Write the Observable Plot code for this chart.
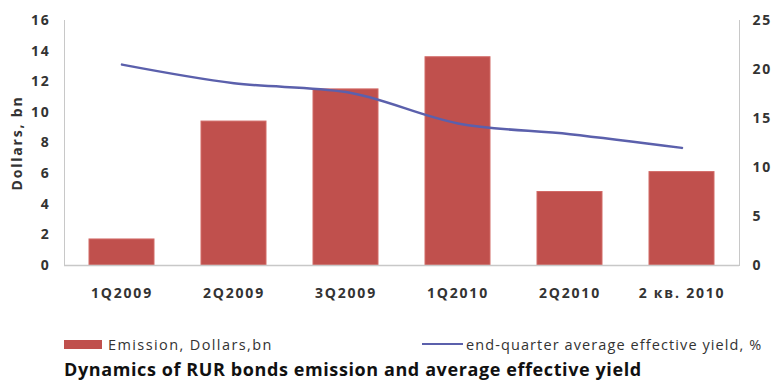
<!DOCTYPE html>
<html>
<head>
<meta charset="utf-8">
<script src="https://cdn.jsdelivr.net/npm/d3@7"></script>
<script src="https://cdn.jsdelivr.net/npm/@observablehq/plot@0.6"></script>
<style>
  html, body { margin: 0; padding: 0; background: #fff; }
  body { position: relative; width: 772px; height: 383px; overflow: hidden; font-family: "Open Sans", sans-serif; }
  #chart svg { display: block; }
  .legend-item { position: absolute; top: 334px; height: 20px; display: flex; align-items: center; white-space: nowrap;
    font-size: 14.5px; color: #333; letter-spacing: 1.4px; }
  .legend-item.right { letter-spacing: 1.1px; }
  .legend-item .bar { width: 38px; height: 9px; background: #c0504d; margin-right: 6px; }
  .legend-item .line { width: 41px; height: 2.5px; background: #5b60ac; margin-right: 3px; }
  .title { position: absolute; left: 64px; top: 357px; font-family: "Open Sans", sans-serif; font-weight: bold;
    font-size: 18px; color: #111; letter-spacing: 0.6px; white-space: nowrap; line-height: 24px; }
</style>
</head>
<body>
<div id="chart"></div>
<div class="legend-item" style="left:64px"><span class="bar"></span>Emission, Dollars,bn</div>
<div class="legend-item right" style="left:422px"><span class="line"></span>end-quarter average effective yield, %</div>
<div class="title">Dynamics of RUR bonds emission and average effective yield</div>
<script>
// Quarterly categories
const quarters = ["1Q2009", "2Q2009", "3Q2009", "1Q2010", "2Q2010", "2 кв. 2010"];
// Emission volume, Dollars bn (left axis)
const emission = [1.7, 9.4, 11.5, 13.6, 4.8, 6.1];
// End-quarter average effective yield, % (right axis)
const yieldPct = [20.5, 18.6, 17.7, 14.5, 13.4, 12.0];
// Axis ticks
const leftTicks = [0, 2, 4, 6, 8, 10, 12, 14, 16];
const rightTicks = [0, 5, 10, 15, 20, 25];

const rows = quarters.map((q, i) => ({quarter: q, emission: emission[i], yield: yieldPct[i]}));

// Map the yield scale (0–25) onto the emission scale (0–16)
const y2 = d3.scaleLinear([0, 25], [0, 16]);

const chart = Plot.plot({
  width: 772,
  height: 320,
  marginTop: 20,
  marginLeft: 64,
  marginRight: 33,
  marginBottom: 55,
  style: {fontFamily: "'Open Sans', sans-serif", fontSize: "14px", color: "#333", letterSpacing: "1.8px"},
  x: {domain: quarters, paddingInner: 0.42, paddingOuter: 0.21, label: null},
  y: {domain: [0, 16], label: null},
  marks: [
    Plot.frame({anchor: "left", stroke: "#c8c8c8"}),
    Plot.frame({anchor: "right", stroke: "#c8c8c8"}),
    Plot.barY(rows, {x: "quarter", y: "emission", fill: "#c0504d", stroke: "#d26a67", strokeWidth: 1}),
    Plot.ruleY([0], {stroke: "#c8c8c8", strokeWidth: 1.5}),
    Plot.lineY(rows, {x: "quarter", y: d => y2(d.yield), stroke: "#5b60ac", strokeWidth: 2.5, curve: "monotone-x"}),
    Plot.axisX({tickSize: 0, tickPadding: 23, fontWeight: "bold", fill: "#333", label: null}),
    Plot.axisY(leftTicks, {anchor: "left", tickSize: 0, tickPadding: 14, fontWeight: "bold", fill: "#333",
      label: "Dollars, bn", labelAnchor: "center", labelArrow: "none", labelOffset: 52}),
    Plot.axisY(rightTicks, {anchor: "right", y: y2, tickFormat: d => d, tickSize: 0, tickPadding: 13,
      fontWeight: "bold", fill: "#333", label: null})
  ]
});
document.getElementById("chart").append(chart);
</script>
</body>
</html>
